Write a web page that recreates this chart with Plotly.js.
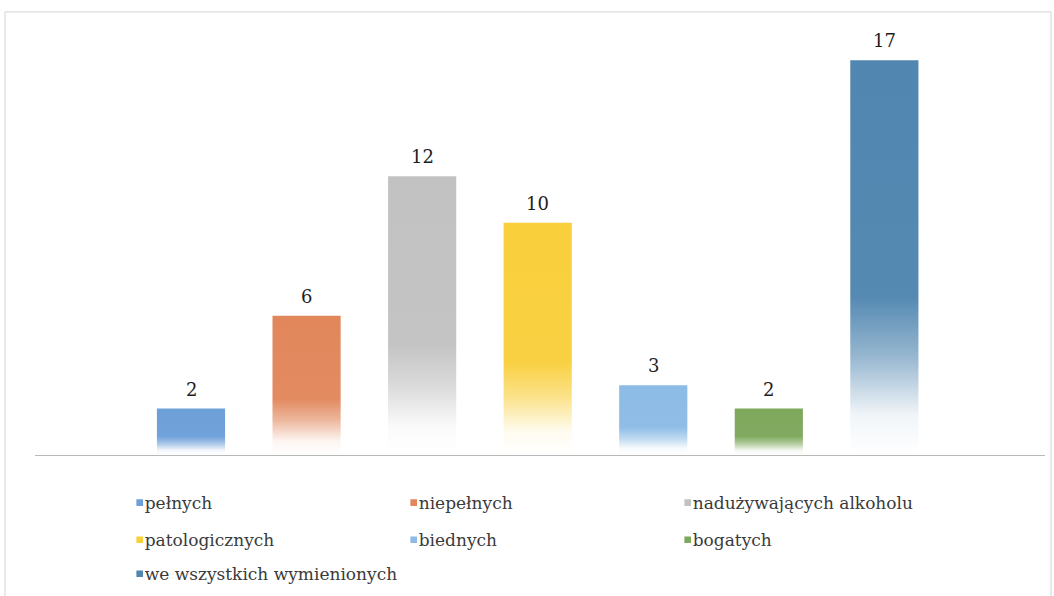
<!DOCTYPE html>
<html>
<head>
<meta charset="utf-8">
<script src="https://cdn.plot.ly/plotly-3.0.1.min.js"></script>
<style>html,body{margin:0;padding:0;background:#fff;}#chart{width:1054px;height:596px;}</style>
</head>
<body>
<div id="chart"></div>
<script>
// Data
var categories = ["pełnych", "niepełnych", "nadużywających alkoholu", "patologicznych", "biednych", "bogatych", "we wszystkich wymienionych"];
var values = [2, 6, 12, 10, 3, 2, 17];
var colors = ["#6d9fd8", "#e2875c", "#c2c2c2", "#f9cf3c", "#8cbbe6", "#7ea85c", "#5086b0"];
var legendRows = ["legend", "legend", "legend", "legend2", "legend2", "legend2", "legend3"];

var FONT = "DejaVu Serif";

var traces = categories.map(function (c, i) {
  return {
    type: "bar",
    name: c,
    x: [c],
    y: [values[i]],
    width: 0.59,
    marker: { color: colors[i], line: { width: 0 } },
    legend: legendRows[i],
    hoverinfo: "none"
  };
});

var annotations = categories.map(function (c, i) {
  return {
    x: c, y: values[i], xref: "x", yref: "y",
    text: String(values[i]),
    showarrow: false, yanchor: "bottom", yshift: 7,
    font: { family: FONT, size: 18, color: "#1e1e1e" }
  };
});

function legendDef(y, w) {
  return {
    orientation: "h", x: 0.069, xanchor: "left", y: y, yanchor: "middle",
    entrywidth: w, entrywidthmode: "pixels",
    font: { family: FONT, size: 17, color: "#3a3a3a" },
    bgcolor: "rgba(0,0,0,0)", traceorder: "normal"
  };
}

var layout = {
  width: 1054, height: 596,
  font: { family: FONT, color: "#333" },
  margin: { l: 35, r: 9, t: 37, b: 141, autoexpand: false },
  paper_bgcolor: "#fff", plot_bgcolor: "#fff",
  barmode: "overlay",
  showlegend: true,
  xaxis: {
    type: "category", range: [-1.35, 7.39],
    showticklabels: false, ticks: "", showgrid: false, zeroline: false,
    showline: true, linecolor: "#b8b8b8", linewidth: 1, fixedrange: true
  },
  yaxis: {
    range: [0, 18], showticklabels: false, ticks: "", showgrid: false,
    zeroline: false, showline: false, fixedrange: true
  },
  annotations: annotations,
  legend: legendDef(-0.115, 229),
  legend2: legendDef(-0.204, 229),
  legend3: legendDef(-0.285, 420),
  shapes: [{
    type: "rect", xref: "paper", yref: "paper",
    x0: -0.0297, x1: 1.006, y0: -0.37, y1: 1.06,
    line: { color: "#d4d4d4", width: 1 }, fillcolor: "rgba(0,0,0,0)", layer: "below"
  }]
};

Plotly.newPlot("chart", traces, layout, { displayModeBar: false, staticPlot: true }).then(function (gd) {
  var svg = gd.querySelector("svg.main-svg");
  var ns = "http://www.w3.org/2000/svg";
  var defs = svg.querySelector("defs") || svg.insertBefore(document.createElementNS(ns, "defs"), svg.firstChild);
  colors.forEach(function (col, i) {
    var g = document.createElementNS(ns, "linearGradient");
    g.setAttribute("id", "barGrad" + i);
    g.setAttribute("x1", "0"); g.setAttribute("y1", "0");
    g.setAttribute("x2", "0"); g.setAttribute("y2", "1");
    var stops = [[0, 1], [0.6, 0.97], [0.75, 0.6], [0.9, 0.08], [1, 0]];
    stops.forEach(function (s) {
      var st = document.createElementNS(ns, "stop");
      st.setAttribute("offset", s[0]);
      st.setAttribute("stop-color", col);
      st.setAttribute("stop-opacity", s[1]);
      g.appendChild(st);
    });
    defs.appendChild(g);
  });
  var barTraces = gd.querySelectorAll(".barlayer .trace.bars");
  barTraces.forEach(function (t, i) {
    t.querySelectorAll(".point path").forEach(function (p) {
      p.style.fill = "url(#barGrad" + i + ")";
    });
  });
  // shrink legend swatches and move them next to the text
  gd.querySelectorAll(".legendpoints path").forEach(function (p) {
    p.setAttribute("transform", (p.getAttribute("transform") || "") + " translate(15,0) scale(0.55)");
  });
});
</script>
</body>
</html>
